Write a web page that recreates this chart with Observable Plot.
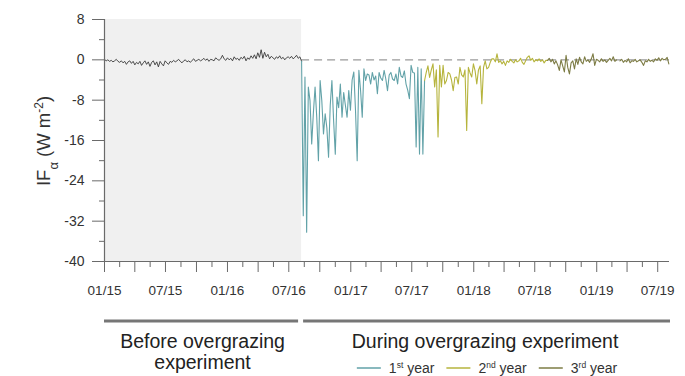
<!DOCTYPE html>
<html>
<head>
<meta charset="utf-8">
<script src="https://cdn.jsdelivr.net/npm/d3@7"></script>
<script src="https://cdn.jsdelivr.net/npm/@observablehq/plot@0.6"></script>
<style>
  body { margin: 0; background: #fff; font-family: "Liberation Sans", Arial, sans-serif; }
  #chart svg { display: block; }
</style>
</head>
<body>
<div id="chart"></div>
<script>
// Periods of the record: start date of each segment (values every 5 days)
const periodNames = ["Before", "1st year", "2nd year", "3rd year"];
const periodStarts = ["2015-01-01", "2016-08-08", "2017-08-08", "2018-08-08"];
const periodColors = ["#3a3a3a", "#62a2a8", "#b6b43c", "#7d7c45"];
const axisStart = "2015-01-01";
const axisEnd = "2019-08-05";
const stepDays = 5;

// IFα (W m-2) before the overgrazing experiment
const beforeValues = [
  0.1, -0.2, 0.0, -0.3, -0.1, -0.4, -0.2, 0.1, -0.3, -0.5,
  -0.2, -0.6, -0.3, -0.9, -0.4, -0.2, -0.7, -0.3, -1.0, -0.5,
  -0.8, -0.3, -1.1, -0.6, -0.2, -0.9, -0.4, -1.3, -0.5, -0.2,
  -1.0, -0.4, -1.4, -0.3, -0.8, -1.2, -0.2, -0.6, -0.9, -0.3,
  -0.5, -0.1, -0.4, -0.2, 0.1, -0.3, -0.6, -0.2, 0.0, -0.4,
  -0.2, -0.5, -0.1, 0.2, -0.3, -0.1, 0.1, -0.2, 0.0, 0.3,
  -0.1, 0.2, -0.3, 0.1, 0.0, -0.2, 0.4, 0.1, -0.1, 0.2,
  0.9, 0.2, -0.1, 0.4, 0.0, 0.3, -0.2, 0.6, 0.1, 0.3,
  -0.1, 0.5, 0.2, 0.7, -0.2, 0.4, 0.1, 0.8, 0.3, 1.0,
  0.2, 1.4, 0.5, 2.0, 0.3, 1.5, 0.6, 1.1, 0.2, 0.7,
  0.4, 0.1, 0.6, 0.3, 0.8, 0.2, 0.5, 0.0, 0.4, 0.6,
  0.3, 0.7, 0.2, 0.5, 0.9, 0.3, 0.6
];

// First year of overgrazing
const year1Values = [
  -0.3, -30.9, -3.4, -34.2, -5.4, -8.1, -16.7, -10.5, -5.4, -11.4,
  -20.0, -4.1, -8.1, -14.7, -10.7, -13.5, -19.3, -9.0, -4.1, -12.0,
  -18.7, -7.4, -9.5, -4.8, -11.4, -6.5, -9.0, -11.4, -6.1, -10.0,
  -4.0, -2.4, -10.0, -20.0, -2.1, -6.0, -11.4, -1.8, -4.1, -2.8,
  -3.0, -4.8, -2.5, -4.0, -3.2, -6.7, -2.5, -3.6, -4.1, -2.1,
  -3.8, -6.1, -3.0, -2.5, -3.8, -4.1, -2.8, -4.8, -1.5, -3.2,
  -3.5, -2.2, -4.8, -6.0, -7.7, -1.1, -2.5, -2.6, -17.3, -1.5,
  -18.7, -1.8, -18.7
];

// Second year of overgrazing
const year2Values = [
  -4.1, -2.5, -1.2, -3.5, -2.0, -0.8, -5.4, -2.0, -15.3, -1.1,
  -5.4, -1.1, -4.8, -4.1, -2.5, -2.8, -4.0, -6.1, -3.5, -3.4,
  -4.8, -1.5, -3.0, -3.4, -2.0, -14.0, -1.5, -2.6, -3.4, -0.8,
  -2.2, -4.8, -2.0, -1.2, -8.7, -1.5, -0.2, -1.8, -1.5, -0.5,
  0.2, 0.2, -0.4, 1.2, -0.5, -0.2, -0.8, -0.3, -1.1, -0.2,
  -0.5, 0.1, -0.3, -0.6, 0.0, -0.4, -0.2, 0.3, -0.5, -0.9,
  -0.2, 0.5, 0.8, -0.1, 0.3, -0.4, 0.0, -0.2, 0.2, -0.3,
  0.0, -0.6, -0.1
];

// Third year of overgrazing (null = missing record)
const year3Values = [
  -0.1, 0.3, -0.4, 0.1, -0.8, -0.2, -1.0, -2.1, 0.0, -1.2,
  -2.4, 0.9, -1.5, -2.8, -0.6, -0.2, -1.8, 0.2, -0.9, 0.5,
  -0.4, -0.8, 0.6, -0.3, 0.0, -0.5, 0.2, 1.2, -1.1, 0.1,
  -0.1, -0.4, 0.2, -0.3, 0.0, -0.5, -0.1, 0.3, -0.2, 0.6,
  -0.3, 0.0, null, -0.2, 0.1, -0.5, -0.1, -0.4, 0.2, -0.6,
  -0.2, -0.3, 0.1, -0.4, -0.2, 0.0, -0.5, -1.1, -0.2, -0.4,
  0.1, -0.3, -0.1, -0.4, 0.2, -0.1, 0.4, -0.2, 0.3, 0.0,
  0.1, 0.5, -0.8
];

const yMajorTicks = [8, 0, -8, -16, -24, -32, -40];
const yMinorTicks = [4, -4, -12, -20, -28, -36];
const xLabelTicks = ["2015-01-01", "2015-07-01", "2016-01-01", "2016-07-01", "2017-01-01",
                     "2017-07-01", "2018-01-01", "2018-07-01", "2019-01-01", "2019-07-01"];
const xQuarterTicks = ["2015-04-01", "2015-10-01", "2016-04-01", "2016-10-01", "2017-04-01",
                       "2017-10-01", "2018-04-01", "2018-10-01", "2019-04-01"];

const parse = d3.utcParse("%Y-%m-%d");
const seriesValues = [beforeValues, year1Values, year2Values, year3Values];

// Build dated records for each period
const records = seriesValues.map((vals, k) => {
  const t0 = parse(periodStarts[k]);
  return vals.map((v, i) => ({date: d3.utcDay.offset(t0, i * stepDays), value: v, period: periodNames[k]}));
});
// Each drawn segment also reaches the first record of the following period
const segments = records.map((recs, k) => k < records.length - 1 ? recs.concat([records[k + 1][0]]) : recs);

const xStart = parse(axisStart), xEnd = parse(axisEnd);
const expStart = parse(periodStarts[1]);
const labelDates = xLabelTicks.map(parse);
const quarterDates = xQuarterTicks.map(parse);
const allQuarter = labelDates.concat(quarterDates).sort((a, b) => a - b);
const midDates = [];
for (let i = 0; i < allQuarter.length; i++) {
  const a = allQuarter[i];
  const b = i + 1 < allQuarter.length ? allQuarter[i + 1] : d3.utcMonth.offset(a, 3);
  const m = new Date((+a + +b) / 2);
  if (m <= xEnd) midDates.push(m);
}

const fmt = d3.utcFormat("%m/%y");
const axisGray = "#6a6a6a";

const plot = Plot.plot({
  width: 685,
  height: 300,
  marginLeft: 104,
  marginRight: 16,
  marginTop: 19,
  marginBottom: 39,
  style: {fontFamily: "'Liberation Sans', Arial, sans-serif", fontSize: "13.5px", color: "#333", background: "#fff"},
  x: {type: "utc", domain: [xStart, xEnd]},
  y: {domain: [-40, 8]},
  marks: [
    Plot.rect([{a: xStart, b: expStart}], {x1: "a", x2: "b", y1: -40, y2: 8, fill: "#f0f0f0"}),
    Plot.ruleY([0], {x1: expStart, x2: xEnd, stroke: "#9a9a9a", strokeWidth: 1.4, strokeDasharray: "8,5"}),
    ...segments.map((seg, k) => Plot.line(seg, {
      x: "date", y: "value", stroke: periodColors[k],
      strokeWidth: k === 0 ? 0.9 : 1.1
    })),
    Plot.axisY(yMajorTicks, {tickSize: 12, tickPadding: 8, tickFormat: d => String(d), label: null, stroke: axisGray, fill: "#333", fontSize: 14}),
    Plot.axisY(yMinorTicks, {tickSize: 5, tickFormat: () => "", label: null, stroke: axisGray}),
    Plot.axisX(labelDates, {tickSize: 11, tickPadding: 13, tickFormat: fmt, label: null, stroke: axisGray, fill: "#333"}),
    Plot.axisX(quarterDates, {tickSize: 11, tickFormat: () => "", label: null, stroke: axisGray}),
    Plot.axisX(midDates, {tickSize: 6, tickFormat: () => "", label: null, stroke: axisGray}),
    Plot.ruleX([xStart], {y1: -40, y2: 8, stroke: axisGray, strokeWidth: 1.2}),
    Plot.ruleY([-40], {x1: xStart, x2: xEnd, stroke: axisGray, strokeWidth: 1.2})
  ]
});

// y-axis title with subscript and superscript
const svgSel = d3.select(plot);
const yTitle = svgSel.append("text")
  .attr("transform", "translate(50,141) rotate(-90)")
  .attr("text-anchor", "middle")
  .attr("fill", "#333")
  .style("font-size", "18.5px")
  .style("font-family", "'Liberation Sans', Arial, sans-serif");
yTitle.append("tspan").text("IF");
yTitle.append("tspan").attr("baseline-shift", "sub").style("font-size", "13px").text("α");
yTitle.append("tspan").text(" (W m");
yTitle.append("tspan").attr("baseline-shift", "super").style("font-size", "12px").text("-2");
yTitle.append("tspan").text(")");

document.getElementById("chart").appendChild(plot);

// Period bars, titles and legend below the chart
const xs = plot.scale("x");
const X = d => xs.apply(d);
const ann = d3.select("#chart").append("svg")
  .attr("width", 685).attr("height", 76)
  .style("font-family", "'Liberation Sans', Arial, sans-serif");

const barY = 21;
ann.append("line").attr("x1", X(xStart)).attr("x2", X(expStart) - 3)
  .attr("y1", barY).attr("y2", barY).attr("stroke", "#767676").attr("stroke-width", 3);
ann.append("line").attr("x1", X(expStart) + 2).attr("x2", X(xEnd) + 1)
  .attr("y1", barY).attr("y2", barY).attr("stroke", "#767676").attr("stroke-width", 3);

const leftMid = (X(xStart) + X(expStart)) / 2;
const rightMid = (X(expStart) + X(xEnd)) / 2;
ann.append("text").attr("x", leftMid).attr("y", 48).attr("text-anchor", "middle")
  .attr("fill", "#222").style("font-size", "19.5px").text("Before overgrazing");
ann.append("text").attr("x", leftMid).attr("y", 69).attr("text-anchor", "middle")
  .attr("fill", "#222").style("font-size", "19.5px").text("experiment");
ann.append("text").attr("x", rightMid).attr("y", 48).attr("text-anchor", "middle")
  .attr("fill", "#222").style("font-size", "19.5px").text("During overgrazing experiment");

const legendItems = [
  {num: "1", sup: "st", color: periodColors[1]},
  {num: "2", sup: "nd", color: periodColors[2]},
  {num: "3", sup: "rd", color: periodColors[3]}
];
const lg = ann.append("g");
let cx = 0;
const legY = 73;
legendItems.forEach((it, i) => {
  lg.append("line").attr("x1", cx).attr("x2", cx + 24).attr("y1", legY - 5).attr("y2", legY - 5)
    .attr("stroke", it.color).attr("stroke-width", 1.5);
  cx += 32;
  const t = lg.append("text").attr("x", cx).attr("y", legY).attr("fill", "#333").style("font-size", "14px");
  t.append("tspan").text(it.num);
  t.append("tspan").attr("baseline-shift", "super").style("font-size", "8.5px").text(it.sup);
  t.append("tspan").text(" year");
  cx += t.node().getComputedTextLength() + 12;
});
const legW = cx - 12;
lg.attr("transform", `translate(${rightMid - legW / 2 + 2},0)`);
</script>
</body>
</html>
